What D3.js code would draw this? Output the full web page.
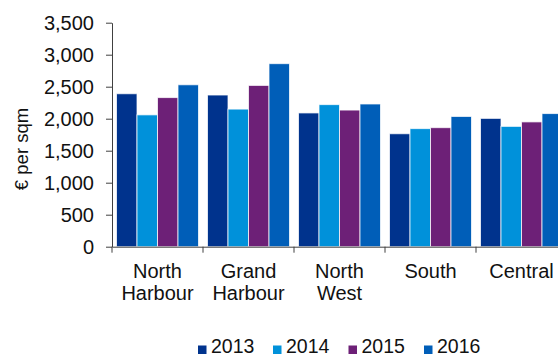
<!DOCTYPE html>
<html>
<head>
<meta charset="utf-8">
<script src="https://cdn.jsdelivr.net/npm/d3@7"></script>
<style>
  html, body { margin: 0; padding: 0; background: #fff; overflow: hidden; }
  svg { display: block; font-family: Arial, "Liberation Sans", sans-serif; }
</style>
</head>
<body>
<svg id="chart" width="558" height="356"></svg>
<script>
const categories = ["North Harbour", "Grand Harbour", "North West", "South", "Central"];
const categoryLines = [["North", "Harbour"], ["Grand", "Harbour"], ["North", "West"], ["South"], ["Central"]];
const years = ["2013", "2014", "2015", "2016"];
const values2013 = [2390, 2370, 2090, 1765, 2005];
const values2014 = [2060, 2150, 2220, 1845, 1880];
const values2015 = [2330, 2520, 2135, 1860, 1950];
const values2016 = [2530, 2860, 2230, 2035, 2080];
const yTicks = [0, 500, 1000, 1500, 2000, 2500, 3000, 3500];
const colors = ["#00338D", "#0091DA", "#6D2077", "#005EB8"];
const series = [values2013, values2014, values2015, values2016];

const svg = d3.select("#chart");
const plotLeft = 112, plotRight = 567, plotTop = 22.7, plotBottom = 246.7;

const x = d3.scaleBand().domain(categories).range([plotLeft, plotRight]).padding(0);
const xInner = d3.scaleBand().domain(years).range([4.5, x.bandwidth() - 4.5]).padding(0);
const y = d3.scaleLinear().domain([0, 3500]).range([plotBottom, plotTop]);

// bars
categories.forEach((c, ci) => {
  const g = svg.append("g").attr("transform", `translate(${x(c)},0)`);
  years.forEach((yr, si) => {
    const v = series[si][ci];
    g.append("rect")
      .attr("x", xInner(yr))
      .attr("y", y(v))
      .attr("width", xInner.bandwidth())
      .attr("height", y(0) - y(v))
      .attr("fill", colors[si])
      .attr("stroke", "#ffffff")
      .attr("stroke-opacity", 0.75)
      .attr("stroke-width", 1);
  });
});

// y axis
const yAxis = svg.append("g")
  .attr("transform", `translate(${plotLeft},0)`)
  .call(d3.axisLeft(y).tickValues(yTicks).tickFormat(d3.format(",")).tickSize(6).tickSizeOuter(0).tickPadding(12));
yAxis.select(".domain").attr("stroke", "#404040");
yAxis.selectAll(".tick line").attr("stroke", "#404040");
yAxis.selectAll(".tick text").attr("font-size", 20).attr("fill", "#111").attr("font-family", "Arial, 'Liberation Sans', sans-serif").attr("dy", "0.36em");

// x axis
const xAxis = svg.append("g")
  .attr("transform", `translate(0,${plotBottom})`)
  .call(d3.axisBottom(x).tickSize(0).tickSizeOuter(0).tickFormat(""));
xAxis.select(".domain").attr("stroke", "#404040");
xAxis.selectAll("line.bound")
  .data(categories)
  .enter().append("line")
  .attr("class", "bound")
  .attr("x1", d => x(d)).attr("x2", d => x(d))
  .attr("y1", 0).attr("y2", 6)
  .attr("stroke", "#404040");
xAxis.selectAll(".tick").each(function(d) {
  const t = d3.select(this).select("text")
    .attr("font-size", 20).attr("fill", "#111")
    .attr("font-family", "Arial, 'Liberation Sans', sans-serif")
    .attr("text-anchor", "middle")
    .attr("y", 0).attr("dy", null);
  t.text(null);
  categoryLines[categories.indexOf(d)].forEach((line, li) => {
    t.append("tspan").attr("x", 0).attr("y", 31 + li * 22).text(line);
  });
});

// y label
svg.append("text")
  .attr("transform", "translate(28,149) rotate(-90)")
  .attr("text-anchor", "middle")
  .attr("font-size", 18.5)
  .attr("fill", "#111")
  .text("€ per sqm");

// legend
const legendX = [198, 273, 348.5, 424];
years.forEach((yr, i) => {
  svg.append("rect")
    .attr("x", legendX[i]).attr("y", 345.5)
    .attr("width", 8.5).attr("height", 8.5)
    .attr("fill", colors[i]);
  svg.append("text")
    .attr("x", legendX[i] + 13).attr("y", 353)
    .attr("font-size", 19.5)
    .attr("fill", "#111")
    .text(yr);
});
</script>
</body>
</html>
